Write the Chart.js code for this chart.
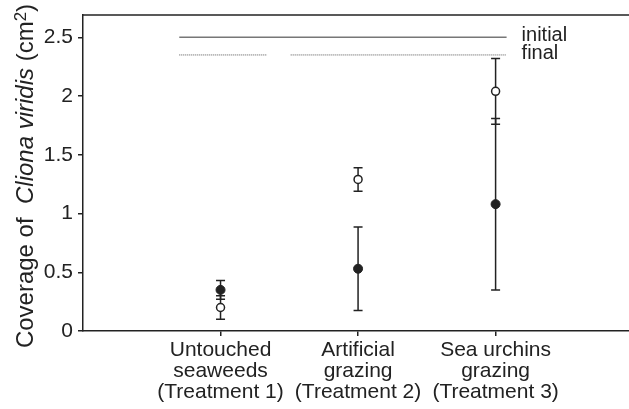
<!DOCTYPE html>
<html>
<head>
<meta charset="utf-8">
<script src="https://cdn.jsdelivr.net/npm/chart.js@4.4.0/dist/chart.umd.min.js"></script>
<style>
  body { margin: 0; background: #fff; }
</style>
</head>
<body>
<canvas id="clionaChart" width="629" height="409"></canvas>
<script>
// treatments along the x axis
const treatments = [
    ['Untouched', 'seaweeds', '(Treatment 1)'],
    ['Artificial', 'grazing', '(Treatment 2)'],
    ['Sea urchins', 'grazing', '(Treatment 3)']
];
const treatmentPos = [1, 2, 3];

// means and error (cm2)
const initialMean = [0.20, 1.29, 2.04];
const initialErr = [0.10, 0.10, 0.28];
const finalMean = [0.35, 0.53, 1.08];
const finalErr = [0.08, 0.355, 0.73];

// reference lines at the top
const initialLineX = [0.70, 3.08];
const initialLineY = 2.5;
const finalLineSegA = [0.70, 1.34];
const finalLineSegB = [1.51, 3.08];
const finalLineY = 2.35;

const yTicks = [0, 0.5, 1, 1.5, 2, 2.5];

const ink = '#222';
const font = 'Liberation Sans, Arial, Helvetica, sans-serif';

const errorBars = {
    id: 'errorBars',
    beforeDatasetsDraw(chart) {
        const { ctx, scales: { x, y } } = chart;
        ctx.save();
        ctx.strokeStyle = ink;
        ctx.lineWidth = 1.5;
        const draw = (means, errs) => {
            means.forEach((m, i) => {
                const px = x.getPixelForValue(treatmentPos[i]);
                const top = y.getPixelForValue(m + errs[i]);
                const bot = y.getPixelForValue(m - errs[i]);
                ctx.beginPath();
                ctx.moveTo(px, top); ctx.lineTo(px, bot);
                ctx.moveTo(px - 4.5, top); ctx.lineTo(px + 4.5, top);
                ctx.moveTo(px - 4.5, bot); ctx.lineTo(px + 4.5, bot);
                ctx.stroke();
            });
        };
        draw(finalMean, finalErr);
        draw(initialMean, initialErr);
        ctx.restore();
    }
};

const decorations = {
    id: 'decorations',
    afterDraw(chart) {
        const { ctx, chartArea, scales: { x, y } } = chart;
        ctx.save();
        // top frame line
        ctx.strokeStyle = ink;
        ctx.lineWidth = 1.5;
        ctx.beginPath();
        ctx.moveTo(chartArea.left, chartArea.top);
        ctx.lineTo(chart.width, chartArea.top);
        ctx.stroke();

        // legend labels
        ctx.fillStyle = ink;
        ctx.font = '20px ' + font;
        ctx.textBaseline = 'middle';
        const lx = x.getPixelForValue(initialLineX[1]) + 15;
        ctx.fillText('initial', lx, y.getPixelForValue(initialLineY) - 2);
        ctx.fillText('final', lx, y.getPixelForValue(finalLineY) - 1);

        // y axis title with italic species name
        const parts = [
            { t: 'Coverage of  ', f: '24px ' + font, dy: 0 },
            { t: 'Cliona viridis', f: 'italic 24px ' + font, dy: 0 },
            { t: ' (cm', f: '24px ' + font, dy: 0 },
            { t: '2', f: '17px ' + font, dy: -7 },
            { t: ')', f: '24px ' + font, dy: 0 }
        ];
        let total = 0;
        parts.forEach(p => { ctx.font = p.f; p.w = ctx.measureText(p.t).width; total += p.w; });
        ctx.translate(33, 176);
        ctx.rotate(-Math.PI / 2);
        ctx.textBaseline = 'alphabetic';
        let cx = -total / 2;
        parts.forEach(p => {
            ctx.font = p.f;
            ctx.fillText(p.t, cx, p.dy);
            cx += p.w;
        });
        ctx.restore();
    }
};

const toPts = (xs, yv) => xs.map(v => ({ x: v, y: yv }));

new Chart(document.getElementById('clionaChart'), {
    type: 'scatter',
    data: {
        datasets: [
            {
                label: 'initial line',
                data: toPts(initialLineX, initialLineY),
                showLine: true,
                borderColor: '#777',
                borderWidth: 1.5,
                pointRadius: 0
            },
            {
                label: 'final line A',
                data: toPts(finalLineSegA, finalLineY),
                showLine: true,
                borderColor: '#555',
                borderWidth: 1,
                borderDash: [1, 1],
                pointRadius: 0
            },
            {
                label: 'final line B',
                data: toPts(finalLineSegB, finalLineY),
                showLine: true,
                borderColor: '#555',
                borderWidth: 1,
                borderDash: [1, 1],
                pointRadius: 0
            },
            {
                label: 'final',
                data: finalMean.map((m, i) => ({ x: treatmentPos[i], y: m })),
                backgroundColor: ink,
                borderColor: ink,
                borderWidth: 1,
                pointRadius: 4.5
            },
            {
                label: 'initial',
                data: initialMean.map((m, i) => ({ x: treatmentPos[i], y: m })),
                backgroundColor: '#fff',
                borderColor: ink,
                borderWidth: 1.5,
                pointRadius: 4
            }
        ]
    },
    options: {
        responsive: false,
        animation: false,
        layout: { autoPadding: false, padding: { top: 15, right: 0, left: 0, bottom: 0 } },
        plugins: {
            legend: { display: false },
            tooltip: { enabled: false }
        },
        scales: {
            x: {
                type: 'linear',
                min: 0,
                max: 3.97,
                afterBuildTicks: axis => {
                    axis.ticks = treatmentPos.map(v => ({ value: v }));
                },
                afterFit: axis => {
                    axis.height = 78;
                    axis.paddingLeft = 0;
                    axis.paddingRight = 0;
                },
                ticks: {
                    color: ink,
                    font: { family: font, size: 21, lineHeight: 1.0 },
                    padding: 4,
                    maxRotation: 0,
                    autoSkip: false,
                    callback: (v) => treatments[treatmentPos.indexOf(v)] || ''
                },
                grid: { drawOnChartArea: false, tickLength: 5, color: ink, lineWidth: 1.5 },
                border: { color: ink, width: 1.5 }
            },
            y: {
                min: 0,
                max: 2.69,
                afterBuildTicks: axis => {
                    axis.ticks = yTicks.map(v => ({ value: v }));
                },
                afterFit: axis => {
                    axis.width = 83;
                    axis.paddingTop = 0;
                    axis.paddingBottom = 0;
                },
                ticks: {
                    color: ink,
                    font: { family: font, size: 21 },
                    padding: 5,
                    callback: v => String(v)
                },
                grid: { drawOnChartArea: false, tickLength: 5, color: ink, lineWidth: 1.5 },
                border: { color: ink, width: 1.5 }
            }
        }
    },
    plugins: [errorBars, decorations]
});
</script>
</body>
</html>
